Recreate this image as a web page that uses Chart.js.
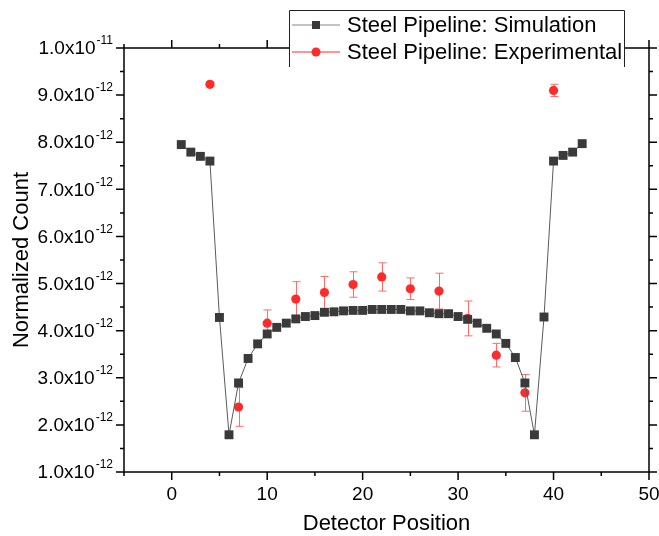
<!DOCTYPE html>
<html>
<head>
<meta charset="utf-8">
<script src="https://cdn.jsdelivr.net/npm/chart.js@4.4.1/dist/chart.umd.min.js"></script>
<style>
  html, body { margin: 0; padding: 0; background: #fff; }
  canvas { display: block; }
</style>
</head>
<body>
<canvas id="chart" width="659" height="536"></canvas>
<script>
// Detector positions and normalized counts
const simPositions = [1, 2, 3, 4, 5, 6, 7, 8, 9, 10, 11, 12, 13, 14, 15, 16, 17, 18, 19, 20, 21, 22,
                      23, 24, 25, 26, 27, 28, 29, 30, 31, 32, 33, 34, 35, 36, 37, 38, 39, 40, 41, 42, 43];
const simCounts = [7.95e-12, 7.79e-12, 7.70e-12, 7.60e-12, 4.28e-12, 1.79e-12, 2.89e-12, 3.41e-12,
                   3.72e-12, 3.93e-12, 4.07e-12, 4.16e-12, 4.25e-12, 4.30e-12, 4.32e-12, 4.39e-12,
                   4.40e-12, 4.42e-12, 4.43e-12, 4.43e-12, 4.45e-12, 4.45e-12, 4.45e-12, 4.45e-12,
                   4.42e-12, 4.42e-12, 4.38e-12, 4.36e-12, 4.36e-12, 4.30e-12, 4.24e-12, 4.16e-12,
                   4.05e-12, 3.93e-12, 3.73e-12, 3.43e-12, 2.89e-12, 1.79e-12, 4.29e-12, 7.60e-12,
                   7.72e-12, 7.79e-12, 7.97e-12];

const expPositions = [4, 7, 10, 13, 16, 19, 22, 25, 28, 31, 34, 37, 40];
const expCounts = [9.23e-12, 2.38e-12, 4.16e-12, 4.67e-12, 4.81e-12, 4.98e-12, 5.14e-12,
                   4.89e-12, 4.84e-12, 4.26e-12, 3.48e-12, 2.68e-12, 9.10e-12];
const expErrors = [0.05e-12, 0.41e-12, 0.28e-12, 0.37e-12, 0.34e-12, 0.27e-12, 0.30e-12,
                   0.23e-12, 0.38e-12, 0.37e-12, 0.25e-12, 0.39e-12, 0.13e-12];

const xTickLabels = [0, 10, 20, 30, 40, 50];
const yTickValues = [1e-12, 2e-12, 3e-12, 4e-12, 5e-12, 6e-12, 7e-12, 8e-12, 9e-12, 1e-11];

const seriesNames = ['Steel Pipeline: Simulation', 'Steel Pipeline: Experimental'];

const FONT = 'Arial, "Liberation Sans", sans-serif';
const SIM_COLOR = '#3a3a3a';
const SIM_LINE = '#5a5a5a';
const EXP_COLOR = '#ff2b2b';
const ERR_COLOR = '#ff6a6a';

// error bars drawn right before the experimental points
const errorBars = {
  id: 'errorBars',
  beforeDatasetDraw(chart, args) {
    if (args.index !== 1) return;
    const { ctx } = chart;
    const xs = chart.scales.x, ys = chart.scales.y;
    ctx.save();
    ctx.strokeStyle = ERR_COLOR;
    ctx.lineWidth = 1;
    expPositions.forEach((p, i) => {
      const x = Math.round(xs.getPixelForValue(p)) + 0.5;
      const yTop = ys.getPixelForValue(expCounts[i] + expErrors[i]);
      const yBot = ys.getPixelForValue(expCounts[i] - expErrors[i]);
      ctx.beginPath();
      ctx.moveTo(x, yTop); ctx.lineTo(x, yBot);
      ctx.moveTo(x - 4, yTop); ctx.lineTo(x + 4, yTop);
      ctx.moveTo(x - 4, yBot); ctx.lineTo(x + 4, yBot);
      ctx.stroke();
    });
    ctx.restore();
  }
};

// box frame, outward ticks, y labels with exponents, legend
const frame = {
  id: 'frame',
  afterDraw(chart) {
    const { ctx, chartArea: a } = chart;
    const xs = chart.scales.x, ys = chart.scales.y;
    ctx.save();
    ctx.strokeStyle = '#000';
    ctx.lineWidth = 1.5;
    ctx.strokeRect(a.left, a.top, a.right - a.left, a.bottom - a.top);

    ctx.beginPath();
    xs.ticks.forEach(t => {
      const x = xs.getPixelForValue(t.value);
      const len = xTickLabels.includes(t.value) ? 8 : 4;
      ctx.moveTo(x, a.bottom); ctx.lineTo(x, a.bottom + len);
      ctx.moveTo(x, a.top); ctx.lineTo(x, a.top - len);
    });
    ys.ticks.forEach(t => {
      const y = ys.getPixelForValue(t.value);
      const major = yTickValues.some(v => Math.abs(v - t.value) < 1e-15);
      const len = major ? 8 : 4;
      ctx.moveTo(a.left, y); ctx.lineTo(a.left - len, y);
      ctx.moveTo(a.right, y); ctx.lineTo(a.right + len, y);
    });
    ctx.stroke();

    // y tick labels, e.g. 4.0x10^-12
    ctx.fillStyle = '#000';
    ctx.textBaseline = 'middle';
    yTickValues.forEach(v => {
      const y = ys.getPixelForValue(v);
      const exp = Math.floor(Math.log10(v) + 1e-9);
      const mant = (v / Math.pow(10, exp)).toFixed(1);
      const supText = String(exp);
      ctx.font = '12px ' + FONT;
      const supW = ctx.measureText(supText).width;
      const right = a.left - 11;
      ctx.textAlign = 'right';
      ctx.fillText(supText, right, y - 7);
      ctx.font = '19px ' + FONT;
      ctx.fillText(mant + 'x10', right - supW - 1, y + 1);
    });

    // legend
    const lx = 289, ly = 10, lw = 336, lh = 57;
    ctx.fillStyle = '#fff';
    ctx.fillRect(lx, ly, lw, lh);
    ctx.strokeStyle = '#222';
    ctx.lineWidth = 1;
    ctx.beginPath();
    ctx.moveTo(lx + 0.5, ly + lh); ctx.lineTo(lx + 0.5, ly + 0.5);
    ctx.lineTo(lx + lw - 0.5, ly + 0.5); ctx.lineTo(lx + lw - 0.5, ly + lh);
    ctx.stroke();

    const rows = [ly + 15, ly + 42];
    ctx.lineWidth = 1;
    ctx.strokeStyle = '#888';
    ctx.beginPath(); ctx.moveTo(292, rows[0]); ctx.lineTo(340, rows[0]); ctx.stroke();
    ctx.fillStyle = SIM_COLOR;
    ctx.fillRect(316 - 4, rows[0] - 4, 8, 8);
    ctx.strokeStyle = EXP_COLOR;
    ctx.beginPath(); ctx.moveTo(292, rows[1]); ctx.lineTo(340, rows[1]); ctx.stroke();
    ctx.fillStyle = EXP_COLOR;
    ctx.beginPath(); ctx.arc(316, rows[1], 4.5, 0, Math.PI * 2); ctx.fill();

    ctx.fillStyle = '#000';
    ctx.font = '22px ' + FONT;
    ctx.textAlign = 'left';
    ctx.fillText(seriesNames[0], 347, rows[0] + 1);
    ctx.fillText(seriesNames[1], 347, rows[1] + 1);
    ctx.restore();
  }
};

new Chart(document.getElementById('chart'), {
  type: 'line',
  data: {
    datasets: [{
      label: seriesNames[0],
      data: simPositions.map((p, i) => ({ x: p, y: simCounts[i] })),
      borderColor: SIM_LINE,
      borderWidth: 1,
      pointStyle: 'rect',
      pointRadius: 6.3,
      pointBackgroundColor: SIM_COLOR,
      pointBorderColor: SIM_COLOR,
      pointBorderWidth: 0,
      tension: 0
    }, {
      label: seriesNames[1],
      data: expPositions.map((p, i) => ({ x: p, y: expCounts[i] })),
      showLine: false,
      pointStyle: 'circle',
      pointRadius: 4.6,
      pointBackgroundColor: EXP_COLOR,
      pointBorderColor: EXP_COLOR,
      pointBorderWidth: 0
    }]
  },
  options: {
    responsive: false,
    animation: false,
    events: [],
    layout: { padding: { top: 48, right: 10, left: 0, bottom: 0 } },
    plugins: { legend: { display: false }, tooltip: { enabled: false } },
    scales: {
      x: {
        type: 'linear',
        min: -5,
        max: 50,
        grid: { display: false, drawTicks: false },
        border: { display: false },
        ticks: {
          stepSize: 5,
          autoSkip: false,
          maxRotation: 0,
          padding: 11,
          color: '#000',
          font: { family: FONT, size: 19 },
          callback: v => xTickLabels.includes(v) ? String(v) : ''
        },
        title: {
          display: true,
          text: 'Detector Position',
          color: '#000',
          font: { family: FONT, size: 22, lineHeight: 1.1 },
          padding: { top: 0, bottom: 0 }
        },
        afterFit: s => { s.height = 64; s.paddingLeft = 0; s.paddingRight = 0; }
      },
      y: {
        type: 'linear',
        min: 1e-12,
        max: 1e-11,
        grid: { display: false, drawTicks: false },
        border: { display: false },
        ticks: { display: false, stepSize: 0.5e-12 },
        title: {
          display: true,
          text: 'Normalized Count',
          color: '#000',
          font: { family: FONT, size: 22 },
          padding: { top: 9, bottom: 0 }
        },
        afterFit: s => { s.width = 124; s.paddingTop = 0; s.paddingBottom = 0; }
      }
    }
  },
  plugins: [errorBars, frame]
});
</script>
</body>
</html>
